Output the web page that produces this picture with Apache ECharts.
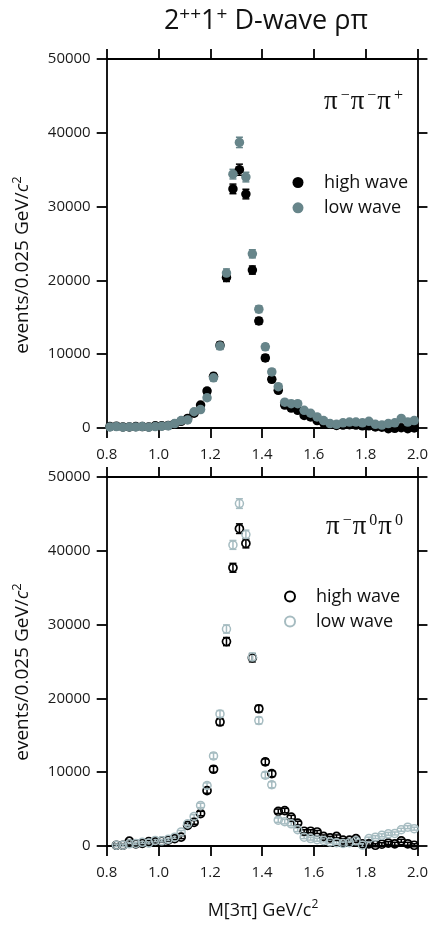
<!DOCTYPE html>
<html>
<head>
<meta charset="utf-8">
<script src="https://cdn.jsdelivr.net/npm/echarts@6/dist/echarts.min.js"></script>
<style>
html,body{margin:0;padding:0;background:#fff;}
#c{width:431px;height:942px;}
</style>
</head>
<body>
<div id="c"></div>
<script>
// ---- data ----
const massTop = [0.8125,0.8375,0.8625,0.8875,0.9125,0.9375,0.9625,0.9875,1.0125,1.0375,1.0625,1.0875,1.1125,1.1375,1.1625,1.1875,1.2125,1.2375,1.2625,1.2875,1.3125,1.3375,1.3625,1.3875,1.4125,1.4375,1.4625,1.4875,1.5125,1.5375,1.5625,1.5875,1.6125,1.6375,1.6625,1.6875,1.7125,1.7375,1.7625,1.7875,1.8125,1.8375,1.8625,1.8875,1.9125,1.9375,1.9625,1.9875];
const topHigh = [200,250,150,150,200,200,150,300,300,350,550,900,1300,2000,3100,5000,7000,11200,20400,32400,35000,31700,21400,14500,9500,6600,5100,3100,2700,2400,1700,1500,1000,700,500,350,400,450,400,300,300,150,100,-100,-50,50,-100,0];
const topLow  = [150,200,100,150,150,200,100,200,250,300,600,1000,1100,2200,2500,4100,6800,11100,21000,34400,38700,34000,23600,16100,11000,7600,5600,3500,3300,3300,2400,2000,1500,1000,600,500,700,800,800,700,900,500,400,600,700,1300,800,1000];
const topHighErr = [150,150,150,150,150,150,150,150,150,150,150,200,200,250,300,350,400,450,550,650,750,650,550,450,400,350,300,250,200,200,200,200,200,200,200,200,200,200,200,200,200,200,200,200,200,200,200,200];
const topLowErr  = [150,150,150,150,150,150,150,150,150,150,150,200,200,250,300,350,400,450,550,650,700,650,550,450,400,350,300,250,200,200,200,200,200,200,200,200,200,200,200,200,200,200,200,200,200,200,200,200];

const massBot = [0.8375,0.8625,0.8875,0.9125,0.9375,0.9625,0.9875,1.0125,1.0375,1.0625,1.0875,1.1125,1.1375,1.1625,1.1875,1.2125,1.2375,1.2625,1.2875,1.3125,1.3375,1.3625,1.3875,1.4125,1.4375,1.4625,1.4875,1.5125,1.5375,1.5625,1.5875,1.6125,1.6375,1.6625,1.6875,1.7125,1.7375,1.7625,1.7875,1.8125,1.8375,1.8625,1.8875,1.9125,1.9375,1.9625,1.9875];
const botHigh = [100,100,650,300,350,600,550,650,800,1000,1200,2800,3200,4400,7500,10400,16800,27700,37700,43000,41000,25500,18600,11400,9800,4700,4800,3900,3100,2000,2000,1900,1300,1100,1300,800,800,1000,300,300,100,250,400,300,700,300,100];
const botLow  = [100,100,300,350,500,400,750,700,900,1200,1900,3000,4000,5500,8200,12200,17900,29400,40800,46400,42200,25600,17000,9600,8300,3500,3300,3000,2200,1200,1000,850,750,550,450,350,450,700,100,1000,1200,1450,1650,1700,2200,2550,2350];
const botHighErr = [150,150,150,150,150,150,150,150,150,150,200,250,250,300,350,400,450,550,600,650,600,550,450,400,400,300,300,250,250,200,200,200,200,200,200,200,200,200,200,200,200,200,200,200,200,200,200];
const botLowErr  = [150,150,150,150,150,150,150,150,150,150,200,250,250,300,350,400,450,550,600,650,600,550,450,400,400,300,300,250,250,200,200,200,200,200,200,200,200,200,200,200,200,200,200,200,200,200,200];

const xTicks = [0.8,1.0,1.2,1.4,1.6,1.8,2.0];
const yTicks = [0,10000,20000,30000,40000,50000];

// ---- styling ----
const FONT = 'Open Sans';
const cHigh = '#000000';
const cLowTop = '#67858a';
const cLowBot = '#a6bcc1';

function pairs(m, v, e) { return m.map((x, i) => e ? [x, v[i], e[i]] : [x, v[i]]); }

function errSeries(name, m, v, e, color, xi, yi) {
  return {
    type: 'custom', name: name, xAxisIndex: xi, yAxisIndex: yi, z: 3,
    encode: { x: 0, y: 1 },
    data: pairs(m, v, e),
    renderItem: function (params, api) {
      const x = api.value(0), y = api.value(1), er = api.value(2);
      const hi = api.coord([x, y + er]), lo = api.coord([x, y - er]);
      const w = 3.5;
      const st = { stroke: color, lineWidth: 1.5 };
      return { type: 'group', children: [
        { type: 'line', shape: { x1: hi[0], y1: hi[1], x2: lo[0], y2: lo[1] }, style: st },
        { type: 'line', shape: { x1: hi[0] - w, y1: hi[1], x2: hi[0] + w, y2: hi[1] }, style: st },
        { type: 'line', shape: { x1: lo[0] - w, y1: lo[1], x2: lo[0] + w, y2: lo[1] }, style: st }
      ]};
    }
  };
}

const axisLine = { show: true, onZero: false, lineStyle: { color: '#000', width: 1.8 } };
const axisTick = { show: true, inside: false, length: 10, lineStyle: { color: '#000', width: 1.8 } };
const labelStyle = { color: '#1a1a1a', fontFamily: FONT, fontSize: 15 };

function xAxes(gi) {
  return [
    { type: 'value', gridIndex: gi, position: 'bottom', min: 0.8, max: 2.0, interval: 0.2,
      axisLine, axisTick, splitLine: { show: false },
      axisLabel: Object.assign({ margin: 19, formatter: v => v.toFixed(1) }, labelStyle) },
    { type: 'value', gridIndex: gi, position: 'top', min: 0.8, max: 2.0, interval: 0.2,
      axisLine, axisTick, splitLine: { show: false }, axisLabel: { show: false } }
  ];
}
function yAxes(gi) {
  return [
    { type: 'value', gridIndex: gi, position: 'left', min: 0, max: 50000, interval: 10000,
      axisLine, axisTick, splitLine: { show: false },
      axisLabel: Object.assign({ margin: 16, formatter: v => String(v) }, labelStyle) },
    { type: 'value', gridIndex: gi, position: 'right', min: 0, max: 50000, interval: 10000,
      axisLine, axisTick, splitLine: { show: false }, axisLabel: { show: false } }
  ];
}

const legendText = { fontFamily: FONT, fontSize: 18, color: '#111', lineHeight: 20 };

const option = {
  animation: false,
  backgroundColor: '#fff',
  grid: [
    { left: 106.7, top: 59, width: 312.5, height: 369 },
    { left: 106.7, top: 477, width: 312.5, height: 369 }
  ],
  xAxis: xAxes(0).concat(xAxes(1)),
  yAxis: yAxes(0).concat(yAxes(1)),
  legend: [
    { orient: 'vertical', left: 287.5, top: 167.5, itemWidth: 42, itemHeight: 11, itemGap: 5.3,
      data: ['high wave', 'low wave'], textStyle: legendText,
      formatter: n => n.split(' (')[0], selectedMode: false },
    { orient: 'vertical', left: 279, top: 581.5, itemWidth: 42, itemHeight: 10, itemGap: 5,
      data: ['high wave (π⁻π⁰π⁰)', 'low wave (π⁻π⁰π⁰)'], textStyle: legendText,
      formatter: n => n.split(' (')[0], selectedMode: false }
  ],
  series: [
    errSeries('err high top', massTop, topHigh, topHighErr, cHigh, 0, 0),
    { type: 'scatter', name: 'high wave', xAxisIndex: 0, yAxisIndex: 0, clip: false, z: 4,
      symbol: 'circle', symbolSize: 9.5, itemStyle: { color: cHigh, opacity: 1 },
      data: pairs(massTop, topHigh) },
    errSeries('err low top', massTop, topLow, topLowErr, cLowTop, 0, 0),
    { type: 'scatter', name: 'low wave', xAxisIndex: 0, yAxisIndex: 0, clip: false, z: 5,
      symbol: 'circle', symbolSize: 9.5, itemStyle: { color: cLowTop, opacity: 1 },
      data: pairs(massTop, topLow) },

    errSeries('err high bot', massBot, botHigh, botHighErr, cHigh, 2, 2),
    { type: 'scatter', name: 'high wave (π⁻π⁰π⁰)', xAxisIndex: 2, yAxisIndex: 2, clip: false, z: 4,
      symbol: 'circle', symbolSize: 8,
      itemStyle: { color: 'rgba(255,255,255,0)', borderColor: cHigh, borderWidth: 1.7, opacity: 1 },
      data: pairs(massBot, botHigh) },
    errSeries('err low bot', massBot, botLow, botLowErr, cLowBot, 2, 2),
    { type: 'scatter', name: 'low wave (π⁻π⁰π⁰)', xAxisIndex: 2, yAxisIndex: 2, clip: false, z: 5,
      symbol: 'circle', symbolSize: 8,
      itemStyle: { color: 'rgba(255,255,255,0)', borderColor: cLowBot, borderWidth: 1.5, opacity: 1 },
      data: pairs(massBot, botLow) }
  ],
  graphic: [
    { type: 'text', x: 266, y: 21, style: {
        text: '2{s|++}1{s|+} D-wave ρπ', align: 'center', verticalAlign: 'middle',
        fontFamily: FONT, fontSize: 27, lineHeight: 32, fill: '#111',
        rich: { s: { fontFamily: FONT, fontSize: 19, lineHeight: 18, verticalAlign: 'top', fill: '#111' } } } },
    { type: 'text', x: 23, y: 265, rotation: Math.PI / 2, style: {
        text: 'events/0.025 GeV/{i|c}{s|2}', align: 'center', verticalAlign: 'middle',
        fontFamily: FONT, fontSize: 19, lineHeight: 24, fill: '#111',
        rich: { i: { fontFamily: FONT, fontSize: 19, fontStyle: 'italic', lineHeight: 24, fill: '#111' },
                s: { fontFamily: FONT, fontSize: 13, lineHeight: 13, verticalAlign: 'top', fill: '#111' } } } },
    { type: 'text', x: 23, y: 672, rotation: Math.PI / 2, style: {
        text: 'events/0.025 GeV/{i|c}{s|2}', align: 'center', verticalAlign: 'middle',
        fontFamily: FONT, fontSize: 19, lineHeight: 24, fill: '#111',
        rich: { i: { fontFamily: FONT, fontSize: 19, fontStyle: 'italic', lineHeight: 24, fill: '#111' },
                s: { fontFamily: FONT, fontSize: 13, lineHeight: 13, verticalAlign: 'top', fill: '#111' } } } },
    { type: 'text', x: 263, y: 911, style: {
        text: 'M[3π] GeV/c{s|2}', align: 'center', verticalAlign: 'middle',
        fontFamily: FONT, fontSize: 18, lineHeight: 24, fill: '#111',
        rich: { s: { fontFamily: FONT, fontSize: 12, lineHeight: 12, verticalAlign: 'top', fill: '#111' } } } },
    { type: 'text', x: 404, y: 102, style: {
        text: 'π{s|−}π{s|−}π{s|+}', align: 'right', verticalAlign: 'middle',
        fontFamily: 'Liberation Serif', fontSize: 27, lineHeight: 28, fill: '#111',
        rich: { s: { fontFamily: 'Liberation Serif', fontSize: 16, lineHeight: 16, verticalAlign: 'top', padding: [0, 1, 0, 3], fill: '#111' } } } },
    { type: 'text', x: 404, y: 527, style: {
        text: 'π{s|−}π{s|0}π{s|0}', align: 'right', verticalAlign: 'middle',
        fontFamily: 'Liberation Serif', fontSize: 27, lineHeight: 28, fill: '#111',
        rich: { s: { fontFamily: 'Liberation Serif', fontSize: 16, lineHeight: 16, verticalAlign: 'top', padding: [0, 1, 0, 3], fill: '#111' } } } }
  ]
};

const chart = echarts.init(document.getElementById('c'), null, { renderer: 'canvas' });
chart.setOption(option);
</script>
</body>
</html>
